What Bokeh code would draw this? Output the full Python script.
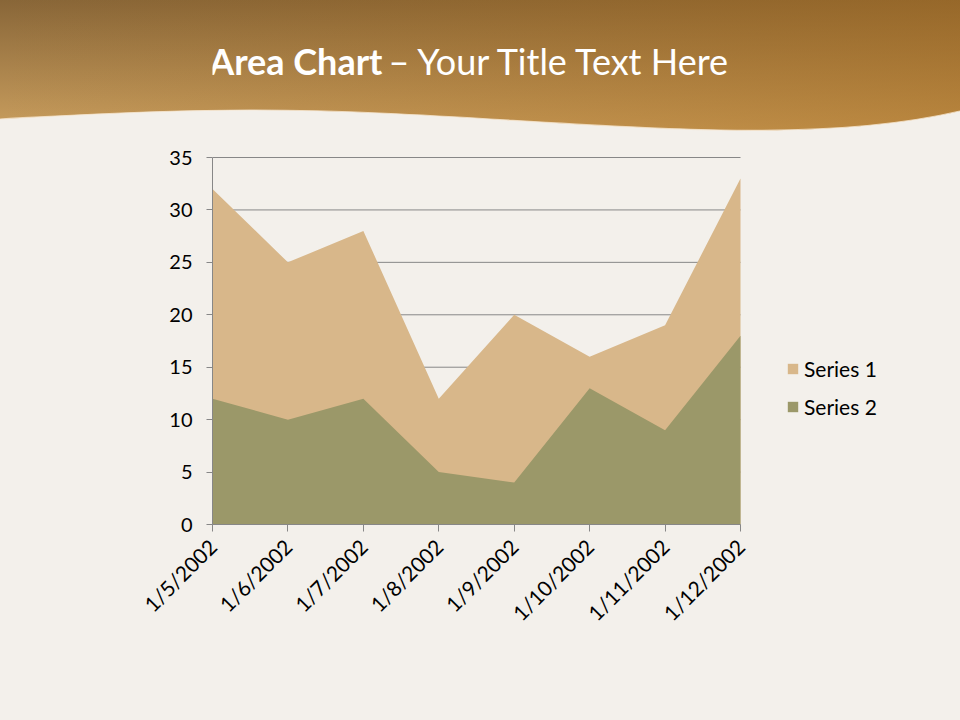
import math
import urllib.parse
from bokeh.plotting import figure
from bokeh.models import Label, FixedTicker, Legend
from bokeh.embed import file_html
from bokeh.resources import INLINE

# ---- data ----
dates = ["1/5/2002", "1/6/2002", "1/7/2002", "1/8/2002",
         "1/9/2002", "1/10/2002", "1/11/2002", "1/12/2002"]
series1 = [32, 25, 28, 12, 20, 16, 19, 33]
series2 = [12, 10, 12, 5, 4, 13, 9, 18]
y_ticks = [0, 5, 10, 15, 20, 25, 30, 35]
title_bold = "Area Chart"
title_rest = "\u2013 Your Title Text Here"

xs = list(range(len(dates)))

W, H = 960, 720
FONT = "Lato"

# layout (page px): plot area x 212..740, value 0 at y=524, top value at y=157.
# The frame is extended to the canvas top/right so title and legend live inside it;
# the axes are bounded to the data span.
PL, PR, PT, PB = 212, 740, 157, 524
y_top = y_ticks[-1] * PB / (PB - PT)
x_right = xs[-1] * (W - PL) / (PR - PL)

p = figure(width=W, height=H, output_backend="svg", toolbar_location=None,
           x_range=(xs[0], x_right), y_range=(y_ticks[0], y_top),
           min_border_left=PL, min_border_right=0,
           min_border_top=0, min_border_bottom=H - PB,
           background_fill_color=None, border_fill_color=None,
           outline_line_color=None)
p.title.visible = False

# background decoration as a CSS SVG image
wave = "M960,111 C900,125 820,132 720,130 C560,127 420,110 250,110 C150,110 60,116 0,119"
svg = (
    '<svg xmlns="http://www.w3.org/2000/svg" width="960" height="720" viewBox="0 0 960 720">'
    '<defs>'
    '<linearGradient id="v" x1="0" y1="0" x2="0" y2="1">'
    '<stop offset="0" stop-color="#886638"/><stop offset="1" stop-color="#c99e5e"/>'
    '</linearGradient>'
    '<linearGradient id="h" x1="0" y1="0" x2="1" y2="0">'
    '<stop offset="0" stop-color="#a86a18" stop-opacity="0"/>'
    '<stop offset="1" stop-color="#a86a18" stop-opacity="0.45"/>'
    '</linearGradient>'
    '</defs>'
    '<rect x="0" y="0" width="960" height="720" fill="#f3f0eb"/>'
    '<path d="M0,0 L960,0 L' + wave[1:] + ' Z" fill="url(#v)"/>'
    '<path d="M0,0 L960,0 L' + wave[1:] + ' Z" fill="url(#h)"/>'
    '<path d="' + wave + '" fill="none" stroke="#f6e6cf" stroke-width="1.2" stroke-opacity="0.8"/>'
    '</svg>'
)
p.styles = {
    "background-color": "#f3f0eb",
    "background-image": 'url("data:image/svg+xml;utf8,' + urllib.parse.quote(svg) + '")',
    "background-repeat": "no-repeat",
    "background-size": "960px 720px",
}

GRAY = "#878787"

# horizontal gridlines limited to the category span
p.segment(x0=[xs[0]] * len(y_ticks), x1=[xs[-1]] * len(y_ticks),
          y0=y_ticks, y1=y_ticks, line_color=GRAY, line_width=1)

# areas
r1 = p.varea(x=xs, y1=0, y2=series1, fill_color="#d8b78a")
r2 = p.varea(x=xs, y1=0, y2=series2, fill_color="#9b9869")

# axes
p.xaxis.ticker = FixedTicker(ticks=xs)
p.xaxis.major_label_overrides = {i: d for i, d in zip(xs, dates)}
p.xaxis.major_label_orientation = math.pi / 4
p.xaxis.bounds = (xs[0], xs[-1])
p.yaxis.ticker = FixedTicker(ticks=y_ticks)
p.yaxis.bounds = (y_ticks[0], y_ticks[-1])
for ax in (p.xaxis[0], p.yaxis[0]):
    ax.axis_line_color = GRAY
    ax.major_tick_line_color = GRAY
    ax.minor_tick_line_color = None
    ax.major_tick_in = 0
    ax.major_label_text_font = FONT
    ax.major_label_text_font_size = "20px"
    ax.major_label_text_color = "#000000"
p.xaxis.major_label_text_font_size = "21px"
p.xaxis.major_tick_out = 7
p.yaxis.major_tick_out = 6
p.yaxis.major_label_standoff = 14
p.xaxis.major_label_standoff = 11

p.xgrid.visible = False
p.ygrid.visible = False

# legend (inside the extended frame, to the right of the plot area)
lg = Legend(items=[("Series 1", [r1]), ("Series 2", [r2])])
lg.location = (574, 105)
lg.background_fill_color = None
lg.border_line_color = None
lg.padding = 0
lg.margin = 0
lg.glyph_width = 13
lg.glyph_height = 13
lg.label_height = 24
lg.spacing = 13
lg.label_standoff = 5
lg.label_text_font = FONT
lg.label_text_font_size = "21px"
lg.label_text_color = "#000000"
p.add_layout(lg)

# title (screen units relative to frame: x from left 212, y up from 524)
t1 = Label(x=382 - PL, y=PB - 60, x_units="screen", y_units="screen",
           text=title_bold, text_font=FONT, text_font_style="bold",
           text_font_size="36px", text_color="#ffffff",
           text_baseline="alphabetic", text_align="right")
t2 = Label(x=388 - PL, y=PB - 60, x_units="screen", y_units="screen",
           text=title_rest, text_font=FONT, text_font_style="normal",
           text_font_size="36px", text_color="#ffffff",
           text_baseline="alphabetic", text_align="left")
p.add_layout(t1)
p.add_layout(t2)

open("out.html", "w").write(file_html(p, INLINE))
